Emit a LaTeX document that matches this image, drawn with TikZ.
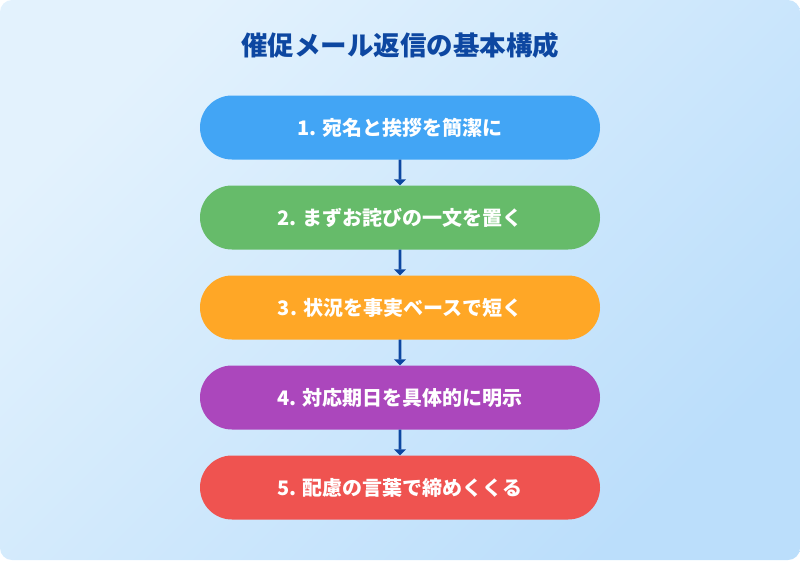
\documentclass[tikz,border=0pt]{standalone}
\usepackage{fontspec}
\setmainfont{Noto Sans CJK JP}
\usepackage{tikz}
\usetikzlibrary{arrows.meta,shapes.misc}
\definecolor{bgtop}{HTML}{E3F2FD}
\definecolor{bgbot}{HTML}{BBDEFB}
\definecolor{titleblue}{HTML}{0D47A1}
\definecolor{stepA}{HTML}{42A5F5}
\definecolor{stepB}{HTML}{66BB6A}
\definecolor{stepC}{HTML}{FFA726}
\definecolor{stepD}{HTML}{AB47BC}
\definecolor{stepE}{HTML}{EF5350}
\tikzset{
	stepbox/.style={rounded rectangle, fill=#1, minimum width=400pt, minimum height=64pt,
		inner sep=0pt, text=white, font=\fontsize{20}{24}\selectfont\bfseries},
	flowarrow/.style={draw=titleblue, line width=2.7pt, -{Triangle[width=12pt,length=6pt]}}
}
\begin{document}
\begin{tikzpicture}[x=1pt,y=-1pt]
		\useasboundingbox (0,0) rectangle (800,560);
		\shade[rounded corners=12pt, top color=bgtop, bottom color=bgbot, shading angle=45]
			(0,0) rectangle (800,560);
%
		\node[text=titleblue, font=\fontsize{26.5}{32}\selectfont\bfseries] (title) at (400,45) {催促メール返信の基本構成};
		\node[stepbox=stepA] (S1) at (400,127.5) {1. 宛名と挨拶を簡潔に};
		\node[stepbox=stepB] (S2) at (400,217.5) {2. まずお詫びの一文を置く};
		\node[stepbox=stepC] (S3) at (400,307.5) {3. 状況を事実ベースで短く};
		\node[stepbox=stepD] (S4) at (400,397.5) {4. 対応期日を具体的に明示};
		\node[stepbox=stepE] (S5) at (400,487.5) {5. 配慮の言葉で締めくくる};
%
		\draw[flowarrow] (S1) -- (S2);
		\draw[flowarrow] (S2) -- (S3);
		\draw[flowarrow] (S3) -- (S4);
		\draw[flowarrow] (S4) -- (S5);
	\end{tikzpicture}
\end{document}
